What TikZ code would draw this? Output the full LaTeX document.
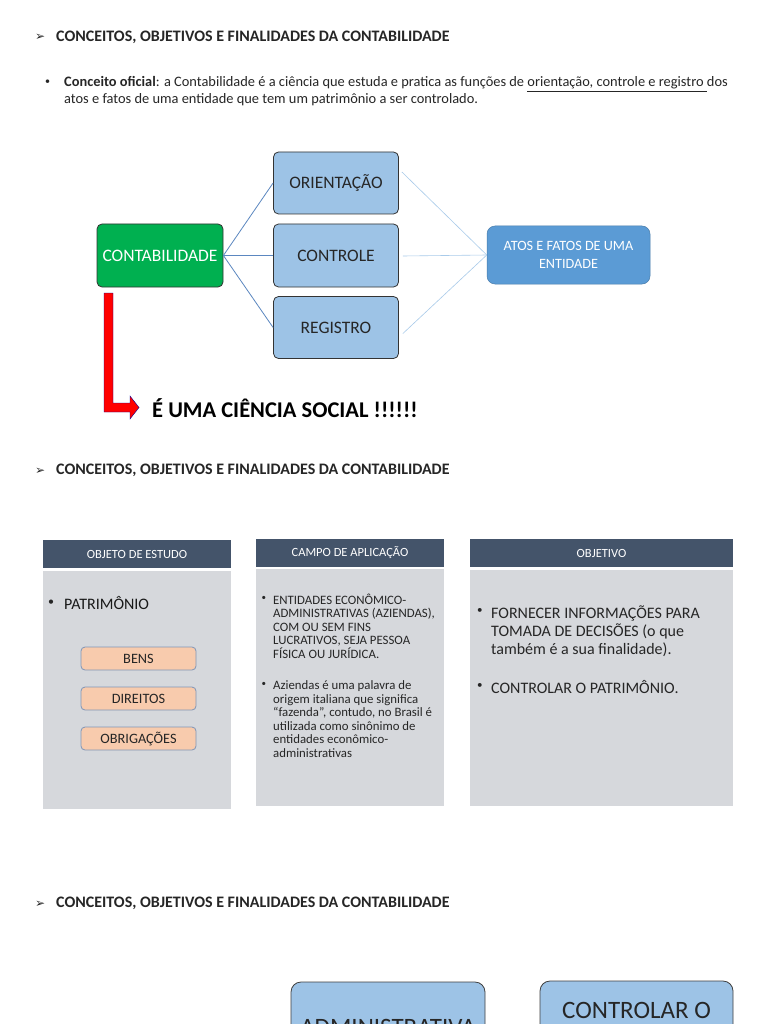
\documentclass[tikz,border=0pt]{standalone}
\usepackage{fontspec}
\setmainfont{Carlito}
\newfontfamily\dejavu{DejaVu Sans}
\definecolor{grn}{HTML}{00B050}
\definecolor{lblue}{HTML}{9DC3E6}
\definecolor{mblue}{HTML}{5B9BD5}
\definecolor{slate}{HTML}{44546A}
\definecolor{lgray}{HTML}{D6D8DC}
\definecolor{peach}{HTML}{F8CBAD}
\definecolor{pborder}{HTML}{7F96B8}
\definecolor{txt}{HTML}{262626}
\definecolor{lineA}{HTML}{5B87C0}
\definecolor{lineB}{HTML}{A9CBEA}
\tikzset{
  hdr/.style={anchor=base west, inner sep=0pt, text=txt, font=\fontsize{16}{19}\selectfont\bfseries},
  hdrarrow/.style={anchor=base west, inner sep=0pt, text=txt, font=\dejavu\fontsize{12}{14}\selectfont},
  bodyline/.style={anchor=base west, inner sep=0pt, text=txt, font=\fontsize{14.4}{17}\selectfont},
  mainbox/.style={draw=black!80, line width=0.8pt, rounded corners=5pt, minimum width=125pt, minimum height=62pt, inner sep=0pt, font=\fontsize{17.5}{20}\selectfont},
  midbox/.style={mainbox, fill=lblue, text=txt},
  conn/.style={draw=lineA, line width=0.8pt},
  connB/.style={draw=lineB, line width=0.6pt},
  colhead/.style={fill=slate, text=white, minimum height=28pt, inner sep=0pt, font=\fontsize{12.5}{14}\selectfont},
  colbody/.style={fill=lgray},
  pbox/.style={draw=pborder, line width=0.8pt, fill=peach, rounded corners=4pt, minimum width=115pt, minimum height=23pt, inner sep=0pt, text=txt, font=\fontsize{14.3}{16}\selectfont},
  blt/.style={anchor=base west, inner sep=0pt, text=txt},
  c2/.style={anchor=base west, inner sep=0pt, text=txt, font=\fontsize{12.8}{14}\selectfont},
  c3/.style={anchor=base west, inner sep=0pt, text=txt, font=\fontsize{16}{18}\selectfont},
  bigbox/.style={draw=black!75, line width=0.8pt, fill=lblue, rounded corners=10pt}
}
\begin{document}
\begin{tikzpicture}[x=1pt,y=-1pt]
\useasboundingbox (0,0) rectangle (768,1024);
\clip (0,0) rectangle (768,1024);
\fill[white] (0,0) rectangle (768,1024);

% ---------- section 1 ----------
\node[hdrarrow] (ar1) at (35,41) {➢};
\node[hdr] (h1) at (56,41.5) {CONCEITOS, OBJETIVOS E FINALIDADES DA CONTABILIDADE};

\node[blt, font=\fontsize{10}{11}\selectfont] (b0) at (45,85) {•};
\node[bodyline] (l1) at (64,87) {\textbf{Conceito oficial}: a Contabilidade é a ciência que estuda e pratica as funções de \underline{orientação, controle e registro\ }dos};
\node[bodyline] (l2) at (64,104) {atos e fatos de uma entidade que tem um patrimônio a ser controlado.};

\node[mainbox, fill=grn, text=white, minimum width=126pt, minimum height=63pt] (cont) at (160,255.5) {CONTABILIDADE};
\node[midbox] (ori) at (336,183) {ORIENTAÇÃO};
\node[midbox, minimum height=63pt] (ctl) at (336,255.5) {CONTROLE};
\node[midbox] (reg) at (336,327.5) {REGISTRO};
\node[draw=mblue!80!black, line width=0.5pt, fill=mblue, rounded corners=8pt, minimum width=163pt, minimum height=58pt, inner sep=0pt, text=white, align=center, font=\fontsize{14.2}{18}\selectfont] (atos) at (568.5,255) {ATOS E FATOS DE UMA\\ENTIDADE};

\draw[conn] (cont.east) -- (ori.west);
\draw[conn] (cont.east) -- (ctl.west);
\draw[conn] (cont.east) -- (reg.west);
\draw[connB] ([shift={(3pt,11pt)}]ori.east) -- (atos.west);
\draw[connB] ([shift={(4pt,-0.5pt)}]ctl.east) -- (atos.west);
\draw[connB] ([shift={(4pt,-6pt)}]reg.east) -- (atos.west);

\node[anchor=base west, inner sep=0pt, text=black, font=\fontsize{22.5}{26}\selectfont\bfseries] (soc) at (152,417) {É UMA CIÊNCIA SOCIAL !!!!!!};
\coordinate (rtop) at (104,293);
\fill[red, draw=blue!60!black, line width=0.4pt]
  (rtop) -- ++(9,0) -- ++(0,110) -- ++(17,0) -- ++(0,-7) -- ++(9,11.5) -- ++(-9,11.5) -- ++(0,-7) -- ++(-26,0) -- cycle;

% ---------- section 2 ----------
\node[hdrarrow] (ar2) at (35,474) {➢};
\node[hdr] (h2) at (56,474.5) {CONCEITOS, OBJETIVOS E FINALIDADES DA CONTABILIDADE};

% column 1
\node[colhead, minimum width=188pt] (ch1) at (137,554) {OBJETO DE ESTUDO};
\fill[colbody] (43,571) rectangle (231,809);
\node[blt, font=\fontsize{12}{13}\selectfont] (pb) at (48,605) {•};
\node[anchor=base west, inner sep=0pt, text=black!90, font=\fontsize{16}{19}\selectfont] (pat) at (64,609.5) {PATRIMÔNIO};
\node[pbox] (bens) at (138.5,658.5) {BENS};
\node[pbox] (dir) at (138.5,698.5) {DIREITOS};
\node[pbox] (obr) at (138.5,738.5) {OBRIGAÇÕES};

% column 2
\node[colhead, minimum width=188pt] (ch2) at (350,553) {CAMPO DE APLICAÇÃO};
\fill[colbody] (256,569) rectangle (444,806);
\node[blt, font=\fontsize{9}{10}\selectfont] (b21) at (261.5,600) {•};
\node[c2] at (273,604) {ENTIDADES ECONÔMICO-};
\node[c2] at (273,617.5) {ADMINISTRATIVAS (AZIENDAS),};
\node[c2] at (273,631) {COM OU SEM FINS};
\node[c2] at (273,644.5) {LUCRATIVOS, SEJA PESSOA};
\node[c2] at (273,658) {FÍSICA OU JURÍDICA.};
\node[blt, font=\fontsize{9}{10}\selectfont] (b22) at (261.5,686) {•};
\node[c2] at (273,689.5) {Aziendas é uma palavra de};
\node[c2] at (273,703) {origem italiana que significa};
\node[c2] at (273,716.5) {“fazenda”, contudo, no Brasil é};
\node[c2] at (273,730) {utilizada como sinônimo de};
\node[c2] at (273,743.5) {entidades econômico-};
\node[c2] at (273,757) {administrativas};

% column 3
\node[colhead, minimum width=263pt] (ch3) at (601.5,553) {OBJETIVO};
\fill[colbody] (470,570) rectangle (733,806);
\node[blt, font=\fontsize{11}{12}\selectfont] (b31) at (477,613) {•};
\node[c3] at (491,618) {FORNECER INFORMAÇÕES PARA};
\node[c3] at (491,636) {TOMADA DE DECISÕES (o que};
\node[c3] at (491,654) {também é a sua finalidade).};
\node[blt, font=\fontsize{11}{12}\selectfont] (b32) at (477,688) {•};
\node[c3] at (491,693) {CONTROLAR O PATRIMÔNIO.};

% ---------- section 3 ----------
\node[hdrarrow] (ar3) at (35,907) {➢};
\node[hdr] (h3) at (56,907.5) {CONCEITOS, OBJETIVOS E FINALIDADES DA CONTABILIDADE};

\draw[bigbox] (291,982) rectangle (485,1120);
\draw[bigbox] (540,981) rectangle (733,1120);
\node[anchor=base, inner sep=0pt, text=txt, font=\fontsize{25}{30}\selectfont] (adm) at (388,1035) {ADMINISTRATIVA};
\node[anchor=base, inner sep=0pt, text=txt, font=\fontsize{25}{30}\selectfont] (ctr) at (636.5,1018) {CONTROLAR O};
\end{tikzpicture}
\end{document}
